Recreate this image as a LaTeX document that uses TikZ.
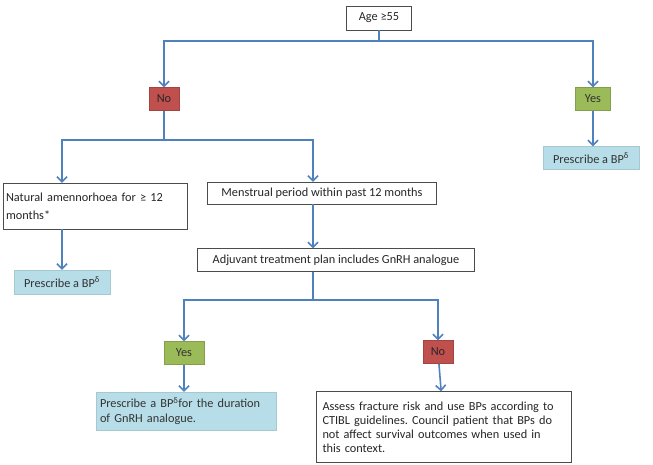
\documentclass[tikz,border=0pt]{standalone}
\usepackage{fontspec}
\setmainfont{Carlito}
\usetikzlibrary{arrows.meta}
\usetikzlibrary{positioning}
\definecolor{flowblue}{HTML}{4F81BD}
\definecolor{nored}{HTML}{C0504D}
\definecolor{yesgreen}{HTML}{9BBB59}
\definecolor{resultblue}{HTML}{B7DEE8}
\frenchspacing
\tikzstyle{box} = [rectangle, draw=black!70, fill=white, text=black!85, font=\fontsize{12.3}{14}\selectfont, inner sep=3pt]
\tikzstyle{nobox} = [rectangle, fill=nored, draw=nored!85!black, text=black!85, minimum width=30pt, minimum height=23pt, font=\fontsize{12.3}{14}\selectfont]
\tikzstyle{yesbox} = [rectangle, fill=yesgreen, draw=yesgreen!85!black, text=black!80, minimum height=23pt, font=\fontsize{12.3}{14}\selectfont]
\tikzstyle{result} = [rectangle, fill=resultblue, draw=resultblue!90!black, text=black!80, font=\fontsize{12.3}{15}\selectfont, inner sep=4pt]
\tikzstyle{flow} = [draw=flowblue, line width=1.6pt]
\tikzstyle{flowarrow} = [flow, -{Straight Barb[length=5pt,width=10pt,line width=1.6pt]}]

\begin{document}
\begin{tikzpicture}[x=1pt, y=-1pt]
  \useasboundingbox (0,0) rectangle (653,464);

  \node (age) [box, minimum width=65pt, minimum height=24pt] at (379,18) {Age ≥55};
  \coordinate (split1) at (379,41);

  \node (no1) [nobox] at (164,99) {No};
  \node (yes1) [yesbox, minimum width=35pt] at (593,99) {Yes};
  \node (presc1) [result, minimum width=96pt, minimum height=23pt] at (591,158) {Prescribe a BP\textsuperscript{δ}};

  \coordinate (split2) at (164,140);
  \node (natural) [box, text width=178pt, align=left, minimum height=46pt, font=\fontsize{12.3}{18}\selectfont] at (95,206) {Natural amennorhoea for ≥ 12\\months*};
  \node (presc2) [result, minimum width=96pt, minimum height=24pt] at (62,282) {Prescribe a BP\textsuperscript{δ}};
  \node (menstrual) [box, minimum width=229pt, minimum height=22pt] at (322,193) {Menstrual period within past 12 months};
  \node (adjuvant) [box, minimum width=277pt, minimum height=23pt] at (336,260) {Adjuvant treatment plan includes GnRH analogue};

  \coordinate (split3) at (313,300);
  \node (yes2) [yesbox, minimum width=40pt] at (184,353) {Yes};
  \node (no2) [nobox] at (438,352) {No};
  \node (presc3) [result, text width=172pt, align=left, minimum height=38pt] at (186,411) {Prescribe a BP\textsuperscript{δ}for the duration\\of GnRH analogue.};
  \node (assess) [box, text width=243pt, inner xsep=6pt, align=left, minimum height=71pt] at (444,427) {Assess fracture risk and use BPs according to\\CTIBL guidelines. Council patient that BPs do\\not affect survival outcomes when used in\\this context.};

  % connectors
  \draw[flow] (age) -- (split1);
  \draw[flowarrow] (split1) -| (no1);
  \draw[flowarrow] (split1) -| (yes1);
  \draw[flowarrow] (yes1) -- (yes1 |- presc1.north);
  \draw[flow] (no1) -- (split2);
  \draw[flowarrow] (split2) -| (natural.north -| presc2);
  \draw[flowarrow] (split2) -| (menstrual.north -| split3);
  \draw[flowarrow] (natural.south -| presc2) -- (presc2);
  \draw[flowarrow] (menstrual.south -| split3) -- (adjuvant.north -| split3);
  \draw[flow] (adjuvant.south -| split3) -- (split3);
  \draw[flowarrow] (split3) -| (yes2);
  \draw[flowarrow] (split3) -| (no2);
  \draw[flowarrow] (yes2) -- (yes2 |- presc3.north);
  \draw[flowarrow] (no2) -- (assess);
\end{tikzpicture}
\end{document}
